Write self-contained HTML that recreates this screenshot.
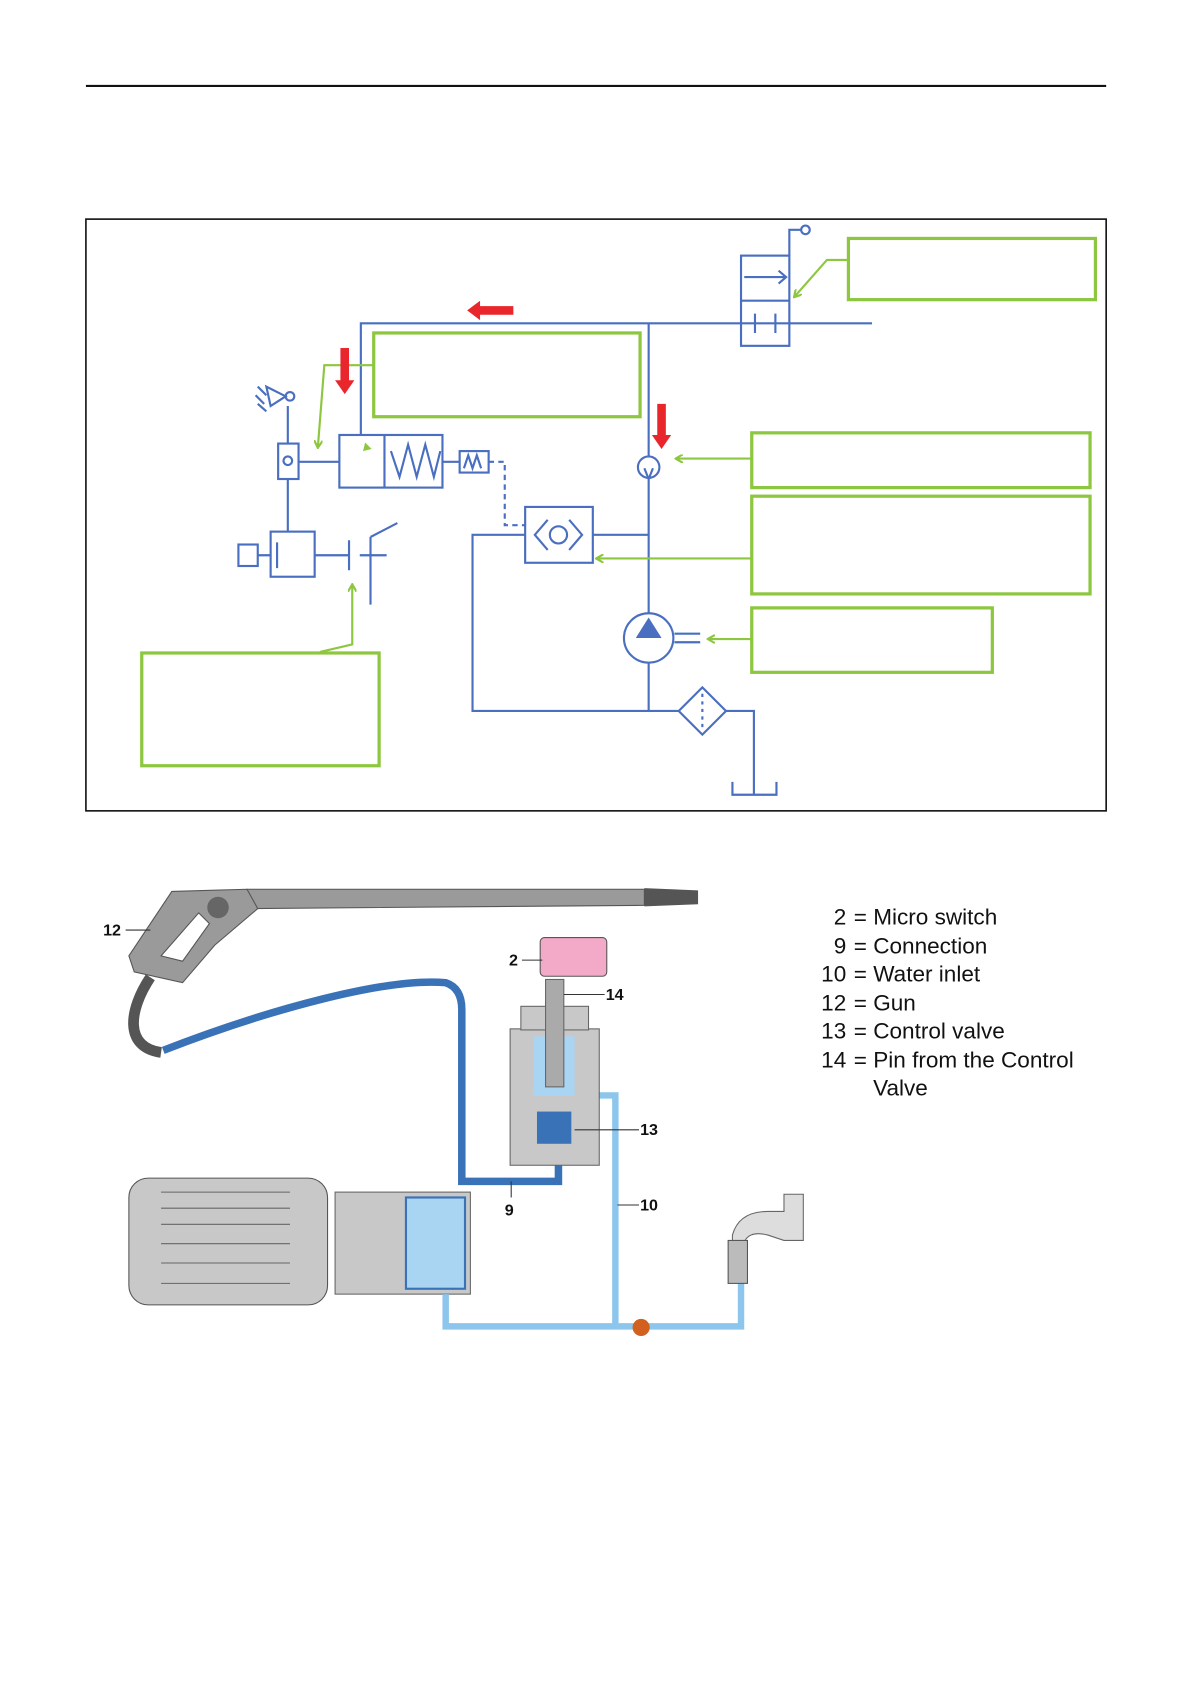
<!DOCTYPE html>
<html><head><meta charset="utf-8"><style>html,body{margin:0;padding:0;background:#fff}svg{display:block}</style></head>
<body>
<svg width="1191" height="1684" viewBox="0 0 1109 1568" xmlns="http://www.w3.org/2000/svg" font-family="Liberation Sans, sans-serif">
<defs>
<marker id="ga" markerWidth="8" markerHeight="8" refX="6" refY="4" orient="auto" markerUnits="userSpaceOnUse"><path d="M0,0 L7,4 L0,8" fill="none" stroke="#8dc63f" stroke-width="2"/></marker>
</defs>
<line x1="80" y1="80" x2="1030" y2="80" stroke="#111" stroke-width="2"/>
<rect x="80" y="204" width="950" height="551" fill="none" stroke="#111" stroke-width="1.5"/>
<g fill="none" stroke="#4a6fc0" stroke-width="2">
<path d="M336,405 V301 H812"/>
<path d="M604,301 V425"/><path d="M604,446 V571"/><path d="M604,617 V662"/>
<rect x="690" y="238" width="45" height="84"/><line x1="690" y1="280" x2="735" y2="280"/>
<path d="M693,258 H732 M725,252 L732,258 L725,264"/>
<path d="M703,292 V310 M722,292 V310"/>
<path d="M735,238 V214 H746"/><circle cx="750" cy="214" r="4"/>
<rect x="316" y="405" width="96" height="49"/><line x1="358" y1="405" x2="358" y2="454"/>
<path d="M364,420 L372,444 L380,414 L388,444 L396,414 L404,444 L410,420"/>
<path d="M278,430 H316 M412,430 H428"/>
<rect x="428" y="420" width="27" height="20"/><path d="M432,436 L436,424 L440,436 L444,424 L448,436"/>
<path d="M455,430 H470 V489 H489" stroke-dasharray="5,4"/>
<rect x="259" y="413" width="19" height="33"/><circle cx="268" cy="429" r="4"/>
<path d="M268,378 V413 M268,446 V495"/>
<circle cx="270" cy="369" r="4"/><path d="M266,369 L248,360 L252,378 Z"/><path d="M240,360 L248,368 M238,368 L246,376 M240,376 L248,383"/>
<rect x="252" y="495" width="41" height="42"/><rect x="222" y="507" width="18" height="20"/><path d="M240,517 H252 M293,517 H325 M325,503 V531 M258,505 V529"/>
<path d="M345,500 L370,487 M345,500 L345,563 M335,517 H360" />
<path d="M600,436 L604,446 L608,436" />
<circle cx="604" cy="435" r="10"/>
<rect x="489" y="472" width="63" height="52"/>
<path d="M510,484 L498,498 L510,512 M530,484 L542,498 L530,512"/><circle cx="520" cy="498" r="8"/>
<path d="M552,498 H604 M489,498 H440 V662 H632"/>
<circle cx="604" cy="594" r="23"/>
<path d="M628,590 H652 M628,598 H652"/>
<path d="M654,640 L676,662 L654,684 L632,662 Z"/><path d="M654,646 V680" stroke-dasharray="3,4"/>
<path d="M676,662 H702 V740 M682,728 V740 H723 V728"/>
</g>
<path d="M592,594 L604,575 L616,594 Z" fill="#4a6fc0"/>
<path d="M340,412 L338,420 L346,418 Z" fill="#8dc63f"/>
<g fill="none" stroke="#8dc63f" stroke-width="3">
<rect x="790" y="222" width="230" height="57"/>
<rect x="348" y="310" width="248" height="78"/>
<rect x="700" y="403" width="315" height="51"/>
<rect x="700" y="462" width="315" height="91"/>
<rect x="700" y="566" width="224" height="60"/>
<rect x="132" y="608" width="221" height="105"/>
</g>
<g fill="none" stroke="#8dc63f" stroke-width="2" marker-end="url(#ga)">
<path d="M790,242 H770 L740,276"/>
<path d="M348,340 H302 L296,416"/>
<path d="M700,427 H630"/>
<path d="M700,520 H556"/>
<path d="M700,595 H660"/>
<path d="M298,607 L328,600 V545"/>
</g>
<g fill="#e8262b">
<path d="M478,285 H447 V280 L435,289 L447,298 V293 H478 Z"/>
<path d="M317,324 H325 V354 H330 L321,367 L312,354 H317 Z"/>
<path d="M612,376 H620 V405 H625 L616,418 L607,405 H612 Z"/>
</g>
<!-- lower illustration -->
<path d="M230,828 L600,828 L600,843 L230,846 Z" fill="#9a9a9a" stroke="#555"/>
<path d="M600,827 L650,829 L650,842 L600,844 Z" fill="#555"/>
<path d="M160,830 L230,828 L240,846 L200,880 L170,915 L125,905 L120,890 Z" fill="#9a9a9a" stroke="#555"/>
<path d="M150,890 L185,850 L195,860 L170,895 Z" fill="#fff" stroke="#555"/>
<circle cx="203" cy="845" r="10" fill="#666"/>
<path d="M140,910 C120,940 115,975 150,980" fill="none" stroke="#555" stroke-width="10"/>
<path d="M152,978 C250,940 360,910 415,915 Q430,920 430,940 V1100 H520 V1070" fill="none" stroke="#3a72b8" stroke-width="7"/>
<rect x="120" y="1097" width="185" height="118" rx="18" fill="#c8c8c8" stroke="#555"/>
<g stroke="#666"><line x1="150" y1="1110" x2="270" y2="1110"/><line x1="150" y1="1125" x2="270" y2="1125"/><line x1="150" y1="1140" x2="270" y2="1140"/><line x1="150" y1="1158" x2="270" y2="1158"/><line x1="150" y1="1176" x2="270" y2="1176"/><line x1="150" y1="1195" x2="270" y2="1195"/></g>
<rect x="312" y="1110" width="126" height="95" fill="#c8c8c8" stroke="#666"/>
<rect x="378" y="1115" width="55" height="85" fill="#a9d4f2" stroke="#3a72b8" stroke-width="2"/>
<path d="M415,1205 V1235 H690 V1195" fill="none" stroke="#8cc6ec" stroke-width="6"/>
<path d="M573,1235 V1020 H540" fill="none" stroke="#8cc6ec" stroke-width="6"/>
<circle cx="597" cy="1236" r="8" fill="#d2601f"/>
<rect x="475" y="958" width="83" height="127" fill="#c8c8c8" stroke="#666"/>
<rect x="485" y="937" width="63" height="22" fill="#c8c8c8" stroke="#666"/>
<rect x="497" y="965" width="38" height="55" fill="#a9d4f2"/>
<rect x="500" y="1035" width="32" height="30" fill="#3a72b8"/>
<rect x="508" y="912" width="17" height="100" fill="#aaa" stroke="#666"/>
<rect x="503" y="873" width="62" height="36" rx="4" fill="#f3a9c8" stroke="#555"/>
<path d="M682,1150 Q688,1128 715,1128 L730,1128 V1112 H748 V1155 H730 L715,1150 Q695,1145 692,1160 V1160 H682 Z" fill="#ddd" stroke="#666"/>
<rect x="678" y="1155" width="18" height="40" fill="#bbb" stroke="#555"/>
<g font-size="15" font-weight="bold" fill="#111">
<text x="96" y="871">12</text><text x="474" y="899">2</text><text x="564" y="931">14</text>
<text x="596" y="1057">13</text><text x="470" y="1132">9</text><text x="596" y="1127">10</text>
</g>
<g stroke="#333" stroke-width="1"><line x1="117" y1="866" x2="140" y2="866"/><line x1="486" y1="894" x2="505" y2="894"/><line x1="525" y1="926" x2="563" y2="926"/><line x1="535" y1="1052" x2="595" y2="1052"/><line x1="476" y1="1100" x2="476" y2="1115"/><line x1="575" y1="1122" x2="595" y2="1122"/></g>
<g font-size="21" fill="#111">
<text x="788" y="861" text-anchor="end">2</text><text x="795" y="861">= Micro switch</text>
<text x="788" y="888" text-anchor="end">9</text><text x="795" y="888">= Connection</text>
<text x="788" y="914" text-anchor="end">10</text><text x="795" y="914">= Water inlet</text>
<text x="788" y="941" text-anchor="end">12</text><text x="795" y="941">= Gun</text>
<text x="788" y="967" text-anchor="end">13</text><text x="795" y="967">= Control valve</text>
<text x="788" y="994" text-anchor="end">14</text><text x="795" y="994">= Pin from the Control</text>
<text x="813" y="1020">Valve</text>
</g>
</svg>
</body></html>
